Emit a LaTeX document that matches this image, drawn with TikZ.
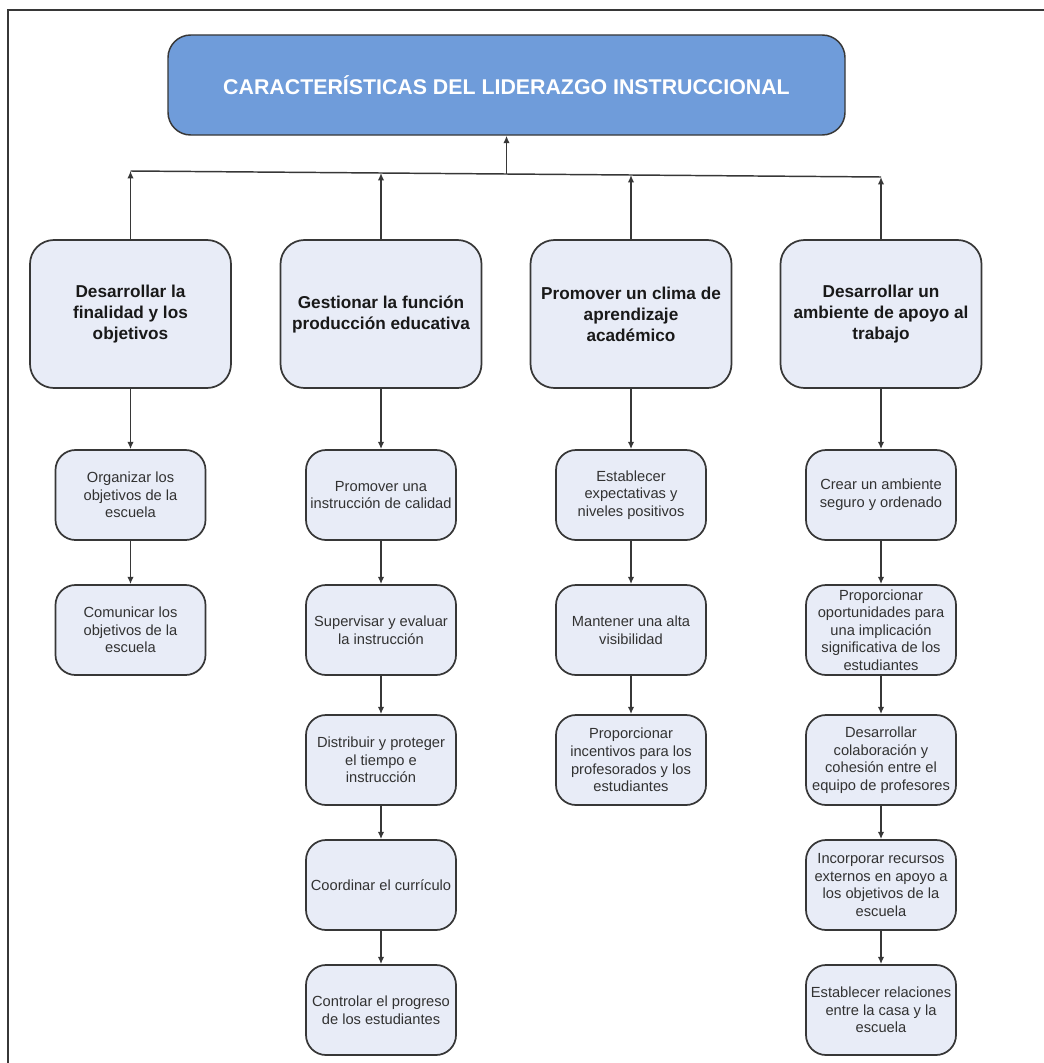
\documentclass[tikz,border=0pt]{standalone}
\usepackage{fontspec}
\setmainfont{Liberation Sans}
\usetikzlibrary{arrows.meta}
\definecolor{titlefill}{RGB}{111,156,218}
\definecolor{boxfill}{RGB}{232,236,247}
\definecolor{edge}{RGB}{55,55,55}
\definecolor{ink}{RGB}{50,50,50}
\begin{document}
\begin{tikzpicture}[x=0.75pt,y=-0.75pt,
  titlebox/.style={draw=edge,line width=1.1pt,fill=titlefill,rounded corners=17pt,
    minimum width=507.75pt,minimum height=75pt,inner sep=0pt,text=white,
    font=\fontsize{16}{19}\selectfont\bfseries},
  mainbox/.style={draw=edge,line width=1.3pt,fill=boxfill,rounded corners=18pt,
    minimum width=150.75pt,minimum height=111pt,inner sep=0pt,align=center,
    text=black!90,font=\fontsize{12.9}{15.75}\selectfont\bfseries},
  subbox/.style={draw=edge,line width=1.3pt,fill=boxfill,rounded corners=15pt,
    minimum width=112.5pt,minimum height=67.5pt,inner sep=0pt,align=center,
    text=ink,font=\fontsize{11}{13.2}\selectfont},
  link/.style={draw=edge,line width=1.1pt,-{Latex[length=5.5pt,width=4.8pt]}},
  busline/.style={draw=edge,line width=1.1pt}]

\useasboundingbox (0,0) rectangle (1044,1063);

% page frame
\draw[edge,line width=1.6pt] (8,1063) -- (8,10) -- (1044,10);

% title
\node[titlebox] (title) at (506.5,85) {CARACTERÍSTICAS DEL LIDERAZGO INSTRUCCIONAL};

% main areas
\node[mainbox] (m1) at (130.5,314) {Desarrollar la\\finalidad y los\\objetivos};
\node[mainbox] (m2) at (381,314) {Gestionar la función\\producción educativa};
\node[mainbox] (m3) at (631,314) {Promover un clima de\\aprendizaje\\académico};
\node[mainbox] (m4) at (881,314) {Desarrollar un\\ambiente de apoyo al\\trabajo};

% column 1
\node[subbox] (a1) at (130.5,495) {Organizar los\\objetivos de la\\escuela};
\node[subbox] (a2) at (130.5,630) {Comunicar los\\objetivos de la\\escuela};

% column 2
\node[subbox] (b1) at (381,495) {Promover una\\instrucción de calidad};
\node[subbox] (b2) at (381,630) {Supervisar y evaluar\\la instrucción};
\node[subbox] (b3) at (381,760) {Distribuir y proteger\\el tiempo e\\instrucción};
\node[subbox] (b4) at (381,885) {Coordinar el currículo};
\node[subbox] (b5) at (381,1010) {Controlar el progreso\\de los estudiantes};

% column 3
\node[subbox] (c1) at (631,495) {Establecer\\expectativas y\\niveles positivos};
\node[subbox] (c2) at (631,630) {Mantener una alta\\visibilidad};
\node[subbox] (c3) at (631,760) {Proporcionar\\incentivos para los\\profesorados y los\\estudiantes};

% column 4
\node[subbox] (d1) at (881,495) {Crear un ambiente\\seguro y ordenado};
\node[subbox] (d2) at (881,630) {Proporcionar\\oportunidades para\\una implicación\\significativa de los\\estudiantes};
\node[subbox] (d3) at (881,760) {Desarrollar\\colaboración y\\cohesión entre el\\equipo de profesores};
\node[subbox] (d4) at (881,885) {Incorporar recursos\\externos en apoyo a\\los objetivos de la\\escuela};
\node[subbox] (d5) at (881,1010) {Establecer relaciones\\entre la casa y la\\escuela};

% collecting bus under the title
\coordinate (busL) at (130.5,171);
\coordinate (bus2) at (381,173);
\coordinate (busC) at (506.5,174);
\coordinate (bus3) at (631,175);
\coordinate (busR) at (881,177);
\draw[busline] (busL) -- (busR);
\draw[link] (busC) -- (title.south);
\draw[link] (m1.north) -- (busL);
\draw[link] (m2.north) -- (bus2);
\draw[link] (m3.north) -- (bus3);
\draw[link] (m4.north) -- (busR);

% downward chains
\draw[link] (m1.south) -- (a1.north);
\draw[link] (a1.south) -- (a2.north);

\draw[link] (m2.south) -- (b1.north);
\draw[link] (b1.south) -- (b2.north);
\draw[link] (b2.south) -- (b3.north);
\draw[link] (b3.south) -- (b4.north);
\draw[link] (b4.south) -- (b5.north);

\draw[link] (m3.south) -- (c1.north);
\draw[link] (c1.south) -- (c2.north);
\draw[link] (c2.south) -- (c3.north);

\draw[link] (m4.south) -- (d1.north);
\draw[link] (d1.south) -- (d2.north);
\draw[link] (d2.south) -- (d3.north);
\draw[link] (d3.south) -- (d4.north);
\draw[link] (d4.south) -- (d5.north);
\end{tikzpicture}
\end{document}
